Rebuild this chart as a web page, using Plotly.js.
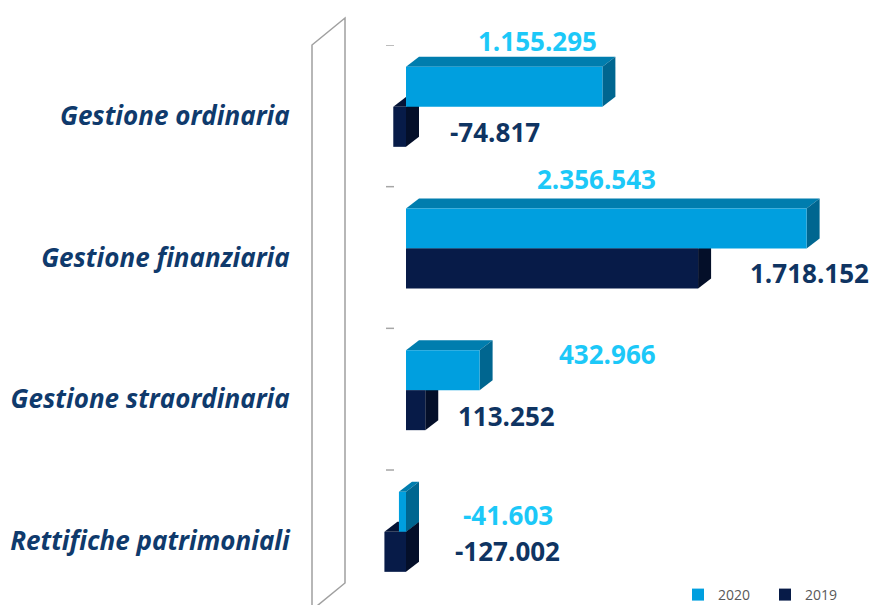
<!DOCTYPE html>
<html>
<head>
<meta charset="utf-8">
<script src="https://cdn.plot.ly/plotly-3.0.1.min.js"></script>
<style>html,body{margin:0;padding:0;background:#fff;}#chart{width:872px;height:605px;}</style>
</head>
<body>
<div id="chart"></div>
<script>
// ---- data ----
const categories = ["Gestione ordinaria", "Gestione finanziaria", "Gestione straordinaria", "Rettifiche patrimoniali"];
const values2020 = [1155295, 2356543, 432966, -41603];
const values2019 = [-74817, 1718152, 113252, -127002];
const seriesNames = ["2020", "2019"];
const labels2020 = ["1.155.295", "2.356.543", "432.966", "-41.603"];
const labels2019 = ["-74.817", "1.718.152", "113.252", "-127.002"];

// ---- layout geometry (positions / styles) ----
const W = 872, H = 605;
const M = {l: 312, r: 20, t: 45, b: 5, autoexpand: false};
const plotW = W - M.l - M.r, plotH = H - M.t - M.b;
const zeroPx = 406, pxPerUnitX = 170e-6;           // px per value unit
const xMin = -(zeroPx - M.l) / pxPerUnitX;
const xMax = xMin + plotW / pxPerUnitX;
const pxPerCat = 141.67;
const yMax = 3.5, yMin = yMax - plotH / pxPerCat;
const catPos = categories.map((c, i) => categories.length - 1 - i);

const barW = 40 / pxPerCat;
const off2020 = 9 / pxPerCat, off2019 = off2020 - barW;
const dX = 13 / pxPerUnitX, dY = 10 / pxPerCat;

const col = {
  f20: "#009FDF", t20: "#007DAE", s20: "#006690",
  f19: "#071B48", t19: "#051436", s19: "#040F29",
  lab20: "#1CC8F8", lab19: "#0F3462", cat: "#0F3A6C"
};

function facePaths(v, yc, off, topCol, sideCol) {
  const y0 = yc + off, y1 = y0 + barW;
  const lo = Math.min(v, 0), hi = Math.max(v, 0);
  return [
    {type: "path", xref: "x", yref: "y", layer: "below", line: {width: 0}, fillcolor: topCol,
     path: `M${lo},${y1} L${lo + dX},${y1 + dY} L${hi + dX},${y1 + dY} L${hi},${y1} Z`},
    {type: "path", xref: "x", yref: "y", layer: "below", line: {width: 0}, fillcolor: sideCol,
     path: `M${hi},${y0} L${hi + dX},${y0 + dY} L${hi + dX},${y1 + dY} L${hi},${y1} Z`}
  ];
}

const shapes = [];
values2019.forEach((v, i) => shapes.push(...facePaths(v, catPos[i], off2019, col.t19, col.s19)));
values2020.forEach((v, i) => shapes.push(...facePaths(v, catPos[i], off2020, col.t20, col.s20)));

// category boundary tick dashes
[3.5, 2.5, 1.5, 0.5].forEach(yb => shapes.push({
  type: "line", xref: "x", yref: "y", xsizemode: "pixel", xanchor: 0,
  x0: -20, x1: -12, y0: yb, y1: yb, line: {color: "#A6A6A6", width: 1.5}
}));

// back wall outline (paper coords from pixels)
const px2paperX = px => (px - M.l) / plotW;
const px2paperY = py => (H - M.b - py) / plotH;
shapes.push({
  type: "path", xref: "paper", yref: "paper", layer: "below", line: {color: "#A0A0A0", width: 1.5},
  path: `M${px2paperX(312)},${px2paperY(45)} L${px2paperX(345)},${px2paperY(18)} L${px2paperX(345)},${px2paperY(583)} L${px2paperX(312)},${px2paperY(610)} Z`
});

// label placement (pixel centres)
const lab20Pos = [[537, 41], [596, 179], [607, 354], [508, 515]];
const lab19Pos = [[495, 132], [809, 273], [506, 416], [507, 551]];
const pxToDataX = px => (px - zeroPx) / pxPerUnitX;

const annotations = [];
function addLabels(labels, pos, color) {
  labels.forEach((t, i) => annotations.push({
    x: pxToDataX(pos[i][0]), y: px2paperY(pos[i][1]), xref: "x", yref: "paper",
    text: "<b>" + t + "</b>", showarrow: false, xanchor: "center", yanchor: "middle",
    font: {family: "Open Sans", size: 26, color: color}
  }));
}
addLabels(labels2020, lab20Pos, col.lab20);
addLabels(labels2019, lab19Pos, col.lab19);

const traces = [
  {type: "bar", orientation: "h", name: seriesNames[0], x: values2020, y: catPos,
   width: barW, offset: off2020, marker: {color: col.f20, line: {width: 0}}, hoverinfo: "skip"},
  {type: "bar", orientation: "h", name: seriesNames[1], x: values2019, y: catPos,
   width: barW, offset: off2019, marker: {color: col.f19, line: {width: 0}}, hoverinfo: "skip"}
];

const layout = {
  width: W, height: H,
  margin: M,
  paper_bgcolor: "#fff", plot_bgcolor: "rgba(0,0,0,0)",
  barmode: "overlay",
  showlegend: true,
  legend: {orientation: "h", x: px2paperX(678), xanchor: "left", y: px2paperY(595), yanchor: "middle",
           font: {family: "Open Sans", size: 14, color: "#595959"}, itemwidth: 30,
           entrywidth: 42, entrywidthmode: "pixels",
           traceorder: "normal", bgcolor: "rgba(0,0,0,0)"},
  xaxis: {range: [xMin, xMax], showgrid: false, zeroline: false, showticklabels: false, showline: false, fixedrange: true},
  yaxis: {range: [yMin, yMax], showgrid: false, zeroline: false, showline: false,
          tickmode: "array", tickvals: catPos, ticktext: categories,
          ticks: "outside", ticklen: 16, tickcolor: "rgba(0,0,0,0)",
          tickfont: {family: "Open Sans", size: 26, color: col.cat, weight: "bold", style: "italic"}, fixedrange: true},
  shapes: shapes,
  annotations: annotations
};

Plotly.newPlot("chart", traces, layout, {displayModeBar: false, staticPlot: true});
</script>
</body>
</html>
